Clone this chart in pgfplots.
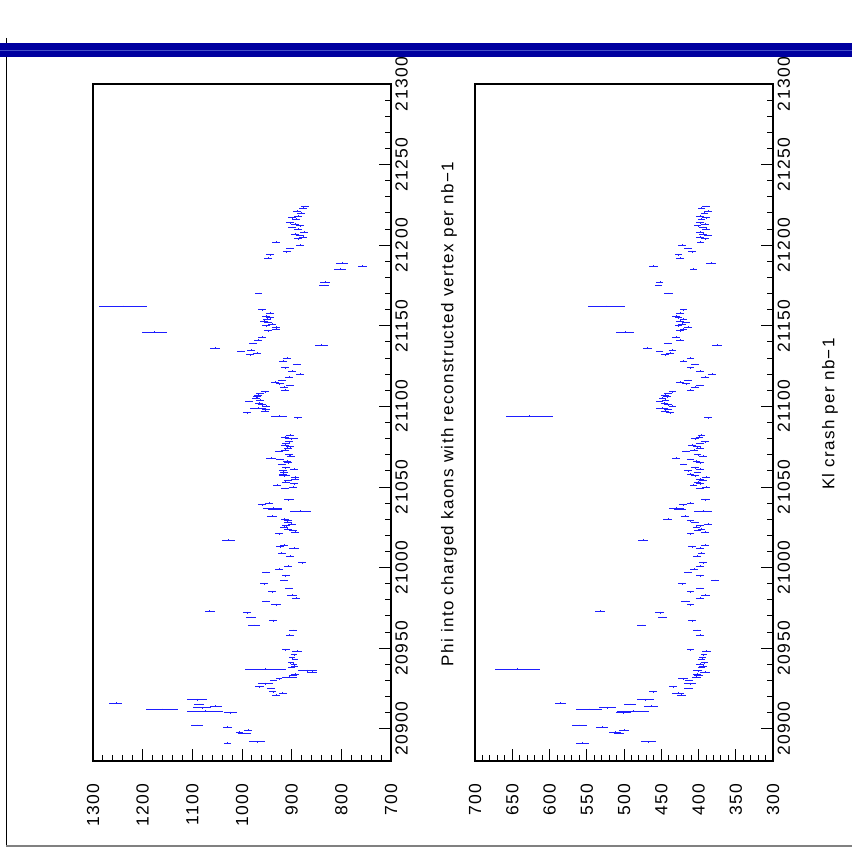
\documentclass[border=0pt]{standalone}
\usepackage{fontspec}
\setmainfont{Liberation Sans}[LetterSpace=8]
\usepackage{pgfplots}
\pgfplotsset{compat=1.18}
\usepackage{pgfplotstable}
\definecolor{bandblue}{RGB}{0,0,160}
\definecolor{bandlight}{RGB}{70,80,200}
\definecolor{ptblue}{RGB}{30,30,255}

\pgfplotstableread{
run r1 e1 r2 e2
20891 1029 7 556 9
20892 969 16 467 9.6
20897 995 14 507 7
20898 1005 8 512 8
20899 988 8 500 7
20901 1029 9 529 8
20902 1090 12 560 10
20910 1024 13 501 10
20911 1074 36 488 21
20912 1161 33 547 18
20913 1081 18 522 11
20914 1053 12 464 9
20915 1086 10 492 8
20916 1254 13 585 7
20918 1090 20 471 11
20921 932 8 423 6
20922 918 8 427 8
20923 938 7 461 5
20925 941 8 413 6
20926 965 9 434 5
20928 953 15 411 8
20930 936 7 413 5
20931 925 6 421 7
20932 904 15 403 6
20933 898 8 400 6
20934 893 8 402 6
20935 859 10 391 7
20936 868 19 401 6
20937 953 41 643 30
20938 900 7 396 5
20939 894 7 394 5
20940 896 6 398 5
20941 902 6 392 5
20943 893 6 396 5
20944 899 6 395 5
20946 895 6 393 4
20948 889 10 389 6
20949 912 8 411 5
20958 904 8 398 5
20961 897 8 402 5
20964 975 12 476 6
20967 938 8 409 5
20969 982 10 448 6
20972 989 8 452 6
20973 1065 10 532 7
20977 932 10 411 5
20979 952 8 417 6
20981 891 8 398 5
20983 899 10 391 6
20985 940 8 411 5
20987 905 8 398 5
20990 956 8 422 5
20992 915 8 378 5
20995 912 8 398 5
20997 952 8 414 5
20999 925 8 406 5
21001 907 8 398 5
21003 879 8 394 5
21007 903 8 402 5
21009 920 8 396 5
21012 895 10 398 5
21013 923 8 409 5
21014 915 8 391 5
21017 1027 13 474.5 7
21021 926 8 411 5
21022 893 8 391 5
21023 897 8 401 5
21024 908 8 396 5
21025 915 8 403 5
21026 911 8 398 5
21027 900 8 387 5
21028 907 8 405 5
21029 908 8 411 5
21030 914 8 441 6
21032 939 10 418 5
21035 883 21 394 12
21036 933 14 425 8
21037 938 19 430 10
21039 960 8 421 5
21040 945 8 411 5
21042 906 10 391 6
21049 913 8 398 5
21050 897 8 390 5
21051 930 8 407 5
21052 895 8 398 5
21053 912 8 401 5
21054 907 8 394 5
21055 893 8 398 5
21056 893 8 390 5
21057 915 11 405 5
21058 917 8 411 5
21059 915 8 401 5
21060 917 8 414 5
21061 895 8 398 5
21062 912 8 405 5
21064 920 8 420 5
21065 907 8 398 5
21066 909 8 403 5
21067 923 8 411 5
21068 941 10 430 5
21069 902 8 394 5
21070 905 8 401 5
21072 926 8 417 5
21073 913 8 406 5
21074 908 8 398 5
21075 903 8 402 5
21076 913 8 409 5
21077 912 8 398 5
21078 905 8 391 5
21080 900 13 405 5
21081 913 8 399 5
21082 903 8 396 5
21093 888 8 387 5
21094 925 16 627 32
21096 990 8 438 5
21097 954 8 445 5
21098 951 8 441 5
21099 967 16 449 8
21100 951 8 435 5
21101 960 8 441 5
21102 965 8 446 5
21103 986 8 452 5
21104 963 8 444 5
21105 972 8 448 5
21106 970 8 442 5
21107 967 8 445 5
21108 963 8 441 5
21109 954 8 435 5
21110 913 8 411 5
21112 915 8 405 5
21113 904 8 398 5
21114 924 8 417 5
21115 934 8 425 5
21116 920 8 414 5
21118 905 8 391 5
21120 883 8 382 5
21122 899 8 398 5
21124 913 8 411 5
21126 889 8 405 5
21128 917 8 420 5
21130 909 8 411 5
21132 984 8 445 5
21133 970 8 438 5
21134 1002 8 452 5
21135 982 8 435 5
21136 1054 10 469 6
21138 840 14 375 7
21139 978 8 441 5
21141 968 8 425 5
21143 960 8 430 5
21146 1176 25 499 12
21147 948 8 425 5
21148 932 8 420 5
21149 932 8 414 5
21150 952 8 427 5
21151 940 8 422 5
21152 948 8 417 5
21153 956 8 425 5
21154 950 8 420 5
21155 944 8 427 5
21156 952 8 430 5
21158 944 8 425 5
21160 960 8 420 5
21162 1240 48 523.5 25
21170 966 7 440 6
21175 835 10 454 5
21177 833 10 452 5
21185 803 12 407 5
21187 757 9 461 6
21189 799 12 383 7
21192 948 8 425 5
21194 944 8 427 5
21196 910 8 409 5
21198 903 8 414 5
21200 883 8 422 5
21202 932 8 397 5
21204 887 8 391 5
21205 877 8 398 5
21206 883 8 387 5
21207 893 8 394 5
21208 875 8 398 5
21210 887 8 390 5
21211 899 8 394 5
21212 883 8 401 5
21213 893 8 391 5
21214 903 8 398 5
21216 891 8 396 5
21217 899 8 390 5
21218 887 8 398 5
21220 881 8 392 5
21221 889 8 387 5
21223 877 8 396 5
21224 873 8 390 5
}\data

\pgfplotsset{
  panel/.style={
    scale only axis, width=298pt, height=677pt,
    anchor=south west,
    x dir=reverse,
    ymin=20880, ymax=21300,
    scaled x ticks=false, scaled y ticks=false,
    ytick={20900,20950,...,21300},
    yticklabels={20900,20950,21000,21050,21100,21150,21200,21250,21300},
    minor y tick num=4,
    xtick pos=bottom, ytick pos=right,
    tick align=inside,
    major tick length=12pt, minor tick length=6pt,
    axis line style={line width=1.1pt},
    every tick/.style={black, line width=0.9pt},
    tick label style={font=\fontsize{17.5}{19}\selectfont},
    xticklabel style={rotate=90, anchor=east},
    yticklabel style={rotate=90, anchor=north},
    xticklabel shift=19pt,
    yticklabel shift=1pt,
    clip=false,
  },
  pts/.style={ptblue, line width=0.5pt, only marks, mark=|, mark size=0.9pt,
    mark options={ptblue, line width=0.5pt},
    error bars/.cd, x dir=both, x explicit, error mark=none,
    error bar style={ptblue, line width=0.75pt}},
}

\begin{document}
\begin{tikzpicture}
\path[use as bounding box] (0,0) rectangle (852pt,861pt);
% page frame
\draw[black, line width=0.8pt] (6pt,823pt) -- (6pt,15pt);
\draw[gray, line width=1.5pt] (6pt,15pt) -- (852pt,15pt);
% blue band
\fill[bandblue] (0pt,804pt) rectangle (852pt,818pt);
\draw[bandlight, line width=0.6pt] (0pt,811pt) -- (852pt,811pt);

\begin{axis}[panel, at={(93pt,100pt)},
  xmin=700, xmax=1300,
  xtick={700,800,...,1300},
  xticklabels={700,800,900,1000,1100,1200,1300},
  minor x tick num=4]
\addplot[pts] table[x=r1, y=run, x error=e1] {\data};
\end{axis}

\begin{axis}[panel, at={(475pt,100pt)},
  xmin=300, xmax=700,
  xtick={300,350,...,700},
  xticklabels={300,350,400,450,500,550,600,650,700},
  minor x tick num=4]
\addplot[pts] table[x=r2, y=run, x error=e2] {\data};
\end{axis}

\node[rotate=90, font=\fontsize{17}{19}\selectfont] at (449pt,447pt)
  {Phi into charged kaons with reconstructed vertex per nb−1};
\node[rotate=90, font=\fontsize{17}{19}\selectfont] at (830pt,447pt)
  {Kl crash per nb−1};
\end{tikzpicture}
\end{document}
